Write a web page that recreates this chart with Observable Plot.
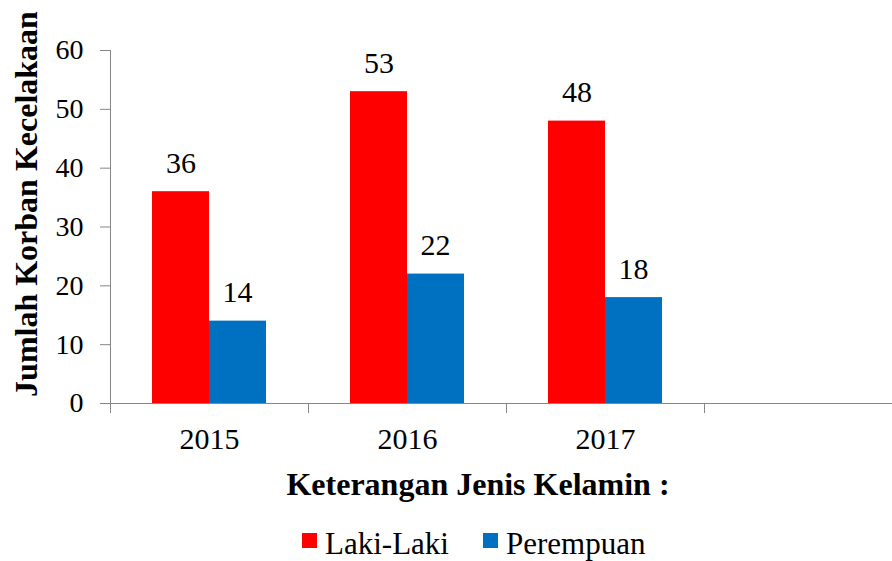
<!DOCTYPE html>
<html><head><meta charset="utf-8">
<script src="https://cdn.jsdelivr.net/npm/d3@7"></script>
<script src="https://cdn.jsdelivr.net/npm/@observablehq/plot@0.6"></script>
<style>
body{margin:0;background:#fff;font-family:"Liberation Serif","Times New Roman",serif;color:#000;}
#chart{width:892px;}
#chart svg{display:block;}
#chart svg, #chart svg text, #chart svg g{font-family:"Liberation Serif","Times New Roman",serif !important;}
#xtitle{width:892px;box-sizing:border-box;padding-left:64px;text-align:center;font-weight:bold;font-size:32px;line-height:40px;color:#000;}
#legend{margin-top:22px;padding-left:302px;}
#legend div, #legend span{font-family:"Liberation Serif","Times New Roman",serif !important;}
#legend div.leg-swatches{font-size:31px;line-height:36px;color:#000;margin:0;min-height:0;}
#legend span.leg-swatch{margin-right:34px;}
#legend span.leg-swatch > svg{margin-right:8px;transform:translateY(-4px);}
</style></head><body>
<div id="chart"></div><div id="xtitle"></div><div id="legend"></div>
<script>
const years = ["2015", "2016", "2017"];
const slots = [...years, ""];
const lakiLaki = [36, 53, 48];
const perempuan = [14, 22, 18];
const series = ["Laki-Laki", "Perempuan"];
const colors = ["#FF0000", "#0070C0"];
const yTicks = [0, 10, 20, 30, 40, 50, 60];
const yLabel = "Jumlah Korban Kecelakaan";
const xTitle = "Keterangan Jenis Kelamin :";

const W = 892, H = 464, mL = 110, mR = -10, mT = 50, mB = 61;
const bw = (W - mL - mR) / slots.length;
const rows = years.map((y, i) => ({year: y, laki: lakiLaki[i], per: perempuan[i]}));
const axisColor = "#868686";
const font = '"Liberation Serif", "Times New Roman", serif';

const chart = Plot.plot({
  width: W, height: H,
  marginLeft: mL, marginRight: mR, marginTop: mT, marginBottom: mB,
  style: {fontFamily: font, color: "#000", background: "#fff"},
  x: {type: "band", domain: slots, padding: 0, label: null},
  y: {domain: [0, 60], label: null},
  marks: [
    Plot.barY(rows, {x: "year", y: "laki", fill: colors[0], insetLeft: 42, insetRight: 99}),
    Plot.barY(rows, {x: "year", y: "per", fill: colors[1], insetLeft: 99, insetRight: 42}),
    Plot.ruleY([0], {stroke: axisColor}),
    Plot.ruleX([slots[0]], {x: d => d, dx: -bw / 2, y1: 0, y2: 60, stroke: axisColor}),
    Plot.axisY({ticks: yTicks, tickSize: 10, tickPadding: 17, fontSize: 28, fontFamily: font, stroke: axisColor, fill: "#000", label: null}),
    Plot.axisX({tickSize: 10, tickFormat: () => "", dx: -bw / 2, stroke: axisColor, label: null}),
    Plot.axisX({tickSize: 0, tickPadding: 24, fontSize: 30, fontFamily: font, fill: "#000", label: null, tickFormat: d => d}),
    Plot.text(rows, {x: "year", y: "laki", text: d => String(d.laki), dx: -28.5, dy: -19, lineAnchor: "bottom", fontSize: 30, fontFamily: font, fill: "#000"}),
    Plot.text(rows, {x: "year", y: "per", text: d => String(d.per), dx: 28, dy: -19, lineAnchor: "bottom", fontSize: 30, fontFamily: font, fill: "#000"}),
    Plot.text([yLabel], {text: d => d, frameAnchor: "left", textAnchor: "middle", rotate: -90, dx: -74, dy: -23, lineAnchor: "bottom", fontSize: 32, fontWeight: "bold", fontFamily: font, fill: "#000"})
  ]
});
document.getElementById("chart").appendChild(chart);
document.getElementById("xtitle").textContent = xTitle;

const legend = Plot.legend({
  color: {type: "ordinal", domain: series, range: colors},
  swatchSize: 15,
  className: "leg"
});
document.getElementById("legend").appendChild(legend);
</script>
</body></html>
